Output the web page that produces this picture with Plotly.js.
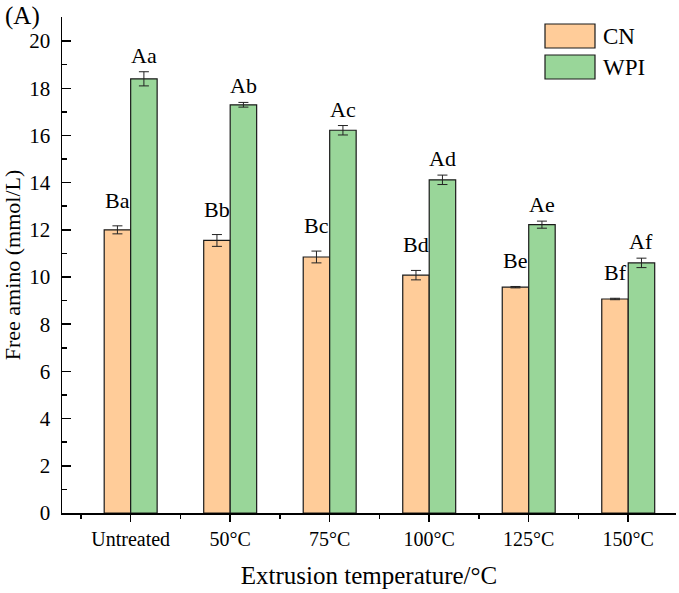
<!DOCTYPE html>
<html>
<head>
<meta charset="utf-8">
<script src="https://cdn.plot.ly/plotly-3.0.1.min.js"></script>
<style>html,body{margin:0;padding:0;background:#fff;}#chart{width:679px;height:593px;}</style>
</head>
<body>
<div id="chart"></div>
<script>
const categories = ["Untreated", "50°C", "75°C", "100°C", "125°C", "150°C"];
const cnValues = [12.0, 11.55, 10.85, 10.08, 9.57, 9.07];
const cnErrors = [0.17, 0.25, 0.25, 0.2, 0.03, 0.03];
const wpiValues = [18.4, 17.3, 16.22, 14.12, 12.22, 10.6];
const wpiErrors = [0.3, 0.1, 0.2, 0.2, 0.15, 0.2];
const cnLabels = ["Ba", "Bb", "Bc", "Bd", "Be", "Bf"];
const wpiLabels = ["Aa", "Ab", "Ac", "Ad", "Ae", "Af"];
const seriesNames = ["CN", "WPI"];
const yTickVals = [0, 2, 4, 6, 8, 10, 12, 14, 16, 18, 20];

const FONT = "Liberation Serif, Times New Roman, serif";
const xIdx = categories.map((c, i) => i);
const barW = 0.266;

const cnTrace = {
  type: "bar", name: seriesNames[0], x: xIdx, y: cnValues,
  width: barW, offset: -barW,
  marker: {color: "#FFCC99", line: {color: "#1a1a1a", width: 1.2}},
  error_y: {type: "data", array: cnErrors, visible: true, color: "#222", thickness: 1, width: 5},
  showlegend: false
};
const wpiTrace = {
  type: "bar", name: seriesNames[1], x: xIdx, y: wpiValues,
  width: barW, offset: 0,
  marker: {color: "#99D699", line: {color: "#1a1a1a", width: 1.2}},
  error_y: {type: "data", array: wpiErrors, visible: true, color: "#222", thickness: 1, width: 5},
  showlegend: false
};

const annotations = [];
xIdx.forEach(i => {
  annotations.push({x: i - barW / 2, y: cnValues[i] + cnErrors[i], xref: "x", yref: "y",
    text: cnLabels[i], showarrow: false, yanchor: "bottom", yshift: 11,
    font: {family: FONT, size: 22, color: "#000"}});
  annotations.push({x: i + barW / 2, y: wpiValues[i] + wpiErrors[i], xref: "x", yref: "y",
    text: wpiLabels[i], showarrow: false, yanchor: "bottom", yshift: 2,
    font: {family: FONT, size: 22, color: "#000"}});
});
annotations.push({x: -59 / 614, y: 1 + 17 / 496, xref: "paper", yref: "paper", xanchor: "left", yanchor: "top",
  text: "(A)", showarrow: false, font: {family: FONT, size: 25, color: "#000"}});

// custom legend
const legendColors = ["#FFCC99", "#99D699"];
const shapes = [];
seriesNames.forEach((n, k) => {
  shapes.push({type: "rect", xref: "paper", yref: "paper",
    x0: (545 - 62) / 614, x1: (595 - 62) / 614,
    y0: 1 - (48 + 31 * k - 17) / 496, y1: 1 - (24 + 31 * k - 17) / 496,
    fillcolor: legendColors[k], line: {color: "#1a1a1a", width: 1.2}});
  annotations.push({x: (601 - 62) / 614, y: 1 - (36 + 31 * k - 17) / 496, xref: "paper", yref: "paper",
    xanchor: "left", yanchor: "middle", text: n, showarrow: false,
    font: {family: FONT, size: 23, color: "#000"}});
});

const layout = {
  width: 679, height: 593,
  margin: {l: 62, r: 3, t: 17, b: 80},
  paper_bgcolor: "#fff", plot_bgcolor: "#fff",
  font: {family: FONT, color: "#000"},
  barmode: "overlay",
  xaxis: {
    range: [-0.69, 5.48], tickvals: xIdx, ticktext: categories,
    showline: true, linecolor: "#000", linewidth: 1.5, mirror: false,
    ticks: "outside", ticklen: 7, tickwidth: 1.5, tickcolor: "#000",
    minor: {tick0: 0.5, dtick: 1, ticks: "outside", ticklen: 4, tickwidth: 1.5, tickcolor: "#000", showgrid: false},
    showgrid: false, zeroline: false,
    tickfont: {family: FONT, size: 20, color: "#000"},
    title: {text: "Extrusion temperature/°C", font: {family: FONT, size: 25, color: "#000"}, standoff: 18}
  },
  yaxis: {
    range: [0, 21.02], tickvals: yTickVals,
    showline: true, linecolor: "#000", linewidth: 1.5,
    ticks: "inside", ticklen: 9, tickwidth: 1.5, tickcolor: "#000",
    minor: {dtick: 1, tick0: 0, ticks: "inside", ticklen: 5, tickwidth: 1.5, tickcolor: "#000", showgrid: false},
    showgrid: false, zeroline: false, ticklabelstandoff: 6,
    tickfont: {family: FONT, size: 21, color: "#000"},
    title: {text: "Free amino (mmol/L)", font: {family: FONT, size: 22, color: "#000"}, standoff: 6}
  },
  annotations: annotations,
  shapes: shapes
};

Plotly.newPlot("chart", [cnTrace, wpiTrace], layout, {staticPlot: true, displayModeBar: false});
</script>
</body>
</html>
